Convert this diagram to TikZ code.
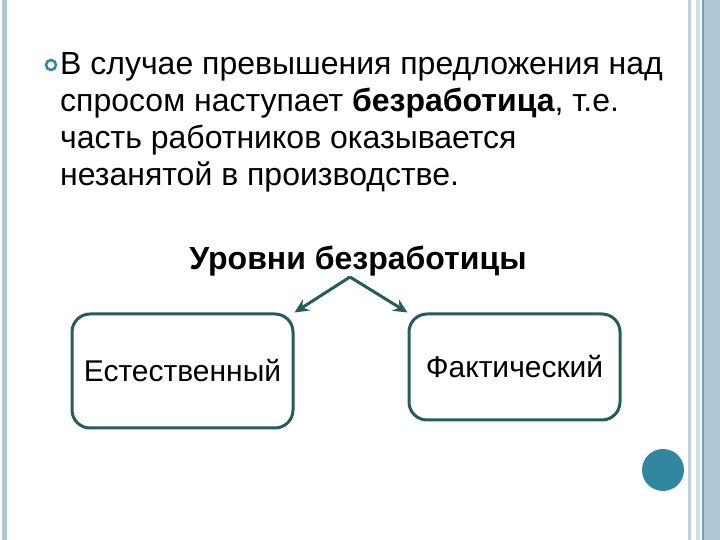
\documentclass[tikz,border=0pt]{standalone}
\usepackage{fontspec}
\setmainfont{Liberation Sans}
\usetikzlibrary{arrows.meta}
\begin{document}
\begin{tikzpicture}[x=1pt,y=1pt,
  box/.style={draw=teal!50!black!85, line width=3pt, rounded corners=18pt, inner sep=0pt},
  arr/.style={draw=teal!50!black!85, line width=3pt, -{Stealth[length=14pt,width=13pt]}},
  txt/.style={anchor=base west, font=\fontsize{32}{32}\selectfont, inner sep=0pt}]
\definecolor{stripe}{RGB}{176,200,212}
\definecolor{stripeb}{RGB}{110,160,185}
\definecolor{dot}{RGB}{50,135,160}
\useasboundingbox (0,0) rectangle (720,540);
\fill[white] (0,0) rectangle (720,540);
\fill[stripe] (2,0) rectangle (7,540);
\fill[stripe!80] (688,0) rectangle (691,540);
\fill[stripe!60] (696,0) rectangle (700,540);
\fill[stripeb] (702,0) rectangle (704,540);
\fill[stripe] (704,0) rectangle (720,540);
\node[circle, draw=dot, line width=2.5pt, inner sep=0pt, minimum size=10pt] (bul) at (51,475) {};
\node[txt] (l1) at (60,465) {В случае превышения предложения над};
\node[txt] (l2) at (60,428) {спросом наступает \textbf{безработица}, т.е.};
\node[txt] (l3) at (60,391) {часть работников оказывается};
\node[txt] (l4) at (60,354) {незанятой в производстве.};
\node[font=\bfseries\fontsize{32}{32}\selectfont, anchor=base] (title) at (358,270) {Уровни безработицы};
\node[box, minimum width=221pt, minimum height=114pt, font=\fontsize{30}{30}\selectfont] (nat) at (182.5,169) {Естественный};
\node[box, minimum width=211pt, minimum height=106pt, font=\fontsize{30}{30}\selectfont] (fac) at (514.5,173) {Фактический};
\coordinate (apex) at (350,263);
\draw[arr] (apex) -- (nat.north east);
\draw[arr] (apex) -- (fac.north west);
\node[circle, fill=dot, minimum size=42pt, inner sep=0pt] (d) at (663,70) {};
\end{tikzpicture}
\end{document}
